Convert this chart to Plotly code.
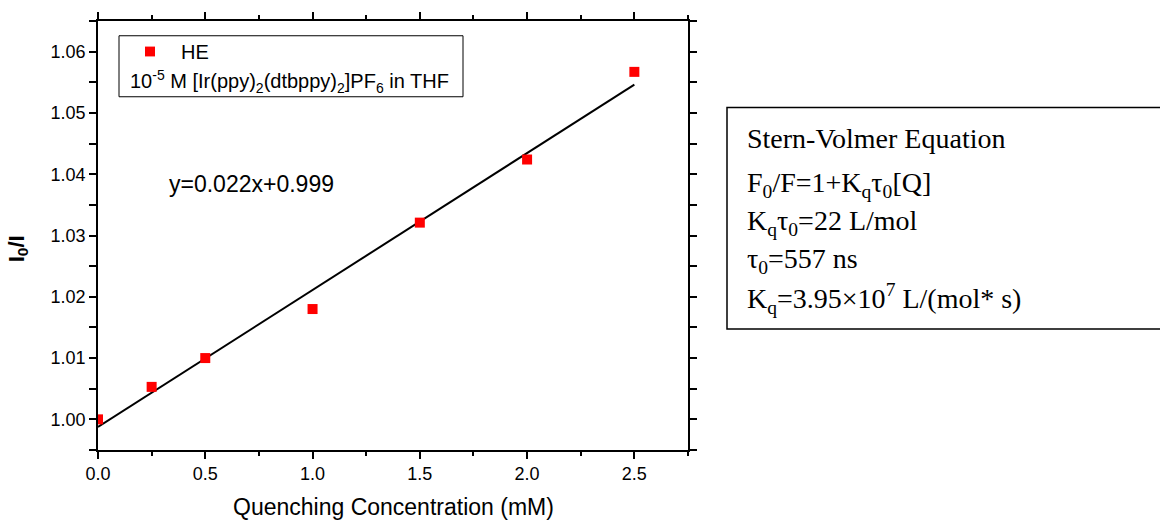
import numpy as np
import plotly.graph_objects as go

# Data
conc = [0.0, 0.25, 0.5, 1.0, 1.5, 2.0, 2.5]
ratio = [1.0000, 1.0053, 1.0100, 1.0180, 1.0321, 1.0424, 1.0567]
series_name = "HE"
legend_note = "10<sup>-5</sup> M [Ir(ppy)<sub>2</sub>(dtbppy)<sub>2</sub>]PF<sub>6</sub> in THF"
fit_label = "y=0.022x+0.999"
x_title = "Quenching Concentration (mM)"
y_title = "<b>I<sub>0</sub>/I</b>"
box_lines = [
    "Stern-Volmer Equation",
    "F<sub>0</sub>/F=1+K<sub>q</sub>τ<sub>0</sub>[Q]",
    "K<sub>q</sub>τ<sub>0</sub>=22 L/mol",
    "τ<sub>0</sub>=557 ns",
    "K<sub>q</sub>=3.95×10<sup>7</sup> L/(mol* s)",
]

W, H = 1160, 522
L, R, T, B = 98, 688, 14, 450

def px(xp):
    return (xp - L) / (R - L)

def py(yp):
    return (B - yp) / (B - T)

slope, intercept = np.polyfit(conc, ratio, 1)
fit_x = np.array([min(conc), max(conc)])
fit_y = slope * fit_x + intercept

fig = go.Figure()
fig.add_trace(go.Scatter(x=fit_x, y=fit_y, mode="lines",
                         line=dict(color="black", width=2), showlegend=False))
fig.add_trace(go.Scatter(x=conc, y=ratio, mode="markers", name=series_name,
                         marker=dict(symbol="square", size=10, color="#ff0000"),
                         showlegend=False))

SANS = "Liberation Sans, Arial"
SERIF = "Liberation Serif, Times New Roman"

axis_common = dict(showline=True, linecolor="black", linewidth=1.5, mirror="ticks",
                   ticks="outside", tickcolor="black", tickwidth=1.5, ticklen=7,
                   showgrid=False, zeroline=False,
                   tickfont=dict(family=SANS, size=18, color="black"))

fig.update_xaxes(range=[0, 2.75], dtick=0.5, tick0=0, tickformat=".1f",
                 minor=dict(dtick=0.25, ticks="outside", ticklen=4, tickcolor="black", tickwidth=1.5),
                 **axis_common)
fig.update_yaxes(range=[0.995, 1.065], dtick=0.01, tick0=1.0, tickformat=".2f",
                 minor=dict(dtick=0.005, ticks="outside", ticklen=7, tickcolor="black", tickwidth=1.5),
                 **axis_common)

shapes = []
annotations = []

# Axis titles
annotations.append(dict(text=y_title, xref="paper", yref="paper",
                        x=px(18), y=py(246), showarrow=False, textangle=-90,
                        xanchor="center", yanchor="middle",
                        font=dict(family=SANS, size=22, color="black")))
annotations.append(dict(text=x_title, xref="paper", yref="paper",
                        x=px(393), y=py(508), showarrow=False,
                        xanchor="center", yanchor="middle",
                        font=dict(family=SANS, size=23, color="black")))

# Legend box
shapes.append(dict(type="rect", xref="paper", yref="paper",
                   x0=px(119), x1=px(463), y0=py(29), y1=py(91),
                   line=dict(color="black", width=1), fillcolor="white", layer="above"))
shapes.append(dict(type="rect", xref="paper", yref="paper",
                   x0=px(145), x1=px(155), y0=py(40), y1=py(50),
                   line=dict(width=0), fillcolor="#ff0000", layer="above"))
annotations.append(dict(text=series_name, xref="paper", yref="paper",
                        x=px(179), y=py(45), showarrow=False, xanchor="left", yanchor="middle",
                        font=dict(family=SANS, size=20, color="black")))
annotations.append(dict(text=legend_note, xref="paper", yref="paper",
                        x=px(128), y=py(75), showarrow=False, xanchor="left", yanchor="middle",
                        font=dict(family=SANS, size=20, color="black")))

# Fit equation
annotations.append(dict(text=fit_label, xref="paper", yref="paper",
                        x=px(167), y=py(180), showarrow=False, xanchor="left", yanchor="middle",
                        font=dict(family=SANS, size=23, color="black")))

# Right info box
shapes.append(dict(type="rect", xref="paper", yref="paper",
                   x0=px(727), x1=px(1175), y0=py(102), y1=py(327),
                   line=dict(color="black", width=1.5), fillcolor="rgba(0,0,0,0)"))
line_y = [133, 180, 219, 257, 296]
for txt, yy in zip(box_lines, line_y):
    annotations.append(dict(text=txt, xref="paper", yref="paper",
                            x=px(745), y=py(yy), showarrow=False, xanchor="left", yanchor="middle",
                            font=dict(family=SERIF, size=28, color="black")))

fig.update_layout(width=W, height=H, margin=dict(l=L, r=W - R, t=T, b=H - B),
                  paper_bgcolor="white", plot_bgcolor="white",
                  shapes=shapes, annotations=annotations, showlegend=False)

fig.write_html("out.html", config={"displayModeBar": False},
               post_script="document.body.style.margin='0';document.body.style.overflow='hidden';")
